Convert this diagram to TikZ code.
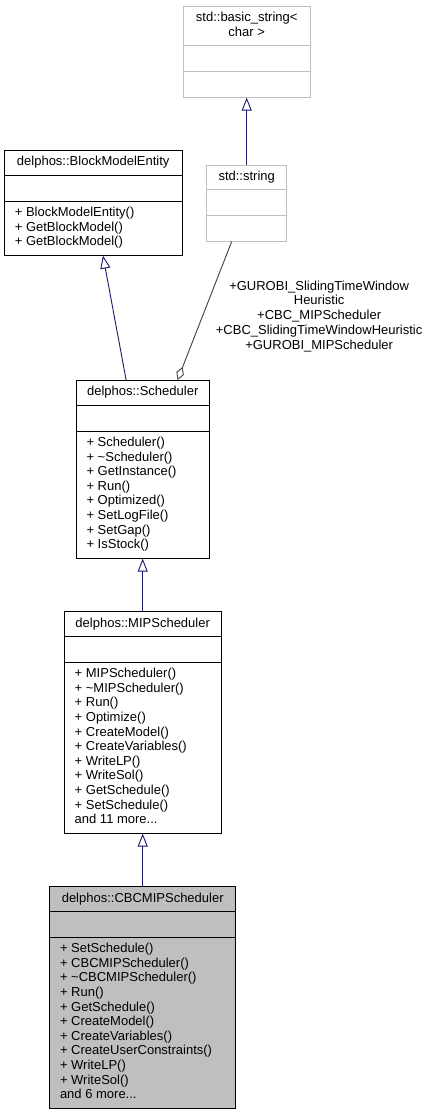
\documentclass[tikz,border=0pt]{standalone}
\usepackage{fontspec}
\setmainfont{Liberation Sans}
\usetikzlibrary{arrows.meta,positioning,shapes.multipart}

\definecolor{edgeblue}{HTML}{191970}
\definecolor{usegray}{HTML}{404040}
\definecolor{boxgray}{HTML}{BFBFBF}

\newcommand{\classtitle}[1]{\begin{tabular}{@{}c@{}}#1\end{tabular}}
\newcommand{\members}[1]{\begin{tabular}{@{}l@{}}#1\end{tabular}}
\newcommand{\nomembers}{\rule{0pt}{15.6pt}}

\tikzset{
    umlclass/.style={rectangle split, rectangle split parts=3, draw=black, line width=1pt,
        inner xsep=10.5pt, inner ysep=4.6pt, rectangle split part align={center,left,left},
        font=\fontsize{13}{14.6}\selectfont},
    extclass/.style={umlclass, draw=boxgray, line width=0.9pt},
    inherit/.style={draw=edgeblue, line width=0.9pt, -{Triangle[open,length=13pt,width=10pt]}},
    aggregate/.style={draw=usegray, line width=0.9pt, -{Diamond[open,length=14pt,width=8pt]}},
    rolelabel/.style={inner sep=0pt, align=center, font=\fontsize{13}{14.8}\selectfont}
}

\begin{document}
\begin{tikzpicture}[x=1pt, y=-1pt, node distance=52.6pt]
            \path[fill=white] (0,0) rectangle (432,1115);
            \useasboundingbox (0,0) rectangle (432,1115);

            \node[extclass, minimum width=126.7pt, anchor=north] (bstr) at (246.7,6)
                {\classtitle{std::basic\_string<\\char >}
                 \nodepart{two}\nomembers
                 \nodepart{three}\nomembers};
            \node[extclass, minimum width=80pt] (str) [below=67pt of bstr]
                {\classtitle{std::string}
                 \nodepart{two}\nomembers
                 \nodepart{three}\nomembers};
            \node[umlclass, minimum width=177.7pt, anchor=north] (bme) at (93.2,150)
                {\classtitle{delphos::BlockModelEntity}
                 \nodepart{two}\nomembers
                 \nodepart{three}\members{+ BlockModelEntity()\\+ GetBlockModel()\\+ GetBlockModel()}};
            \node[umlclass, minimum width=133.3pt, anchor=north] (sched) at (142.7,380)
                {\classtitle{delphos::Scheduler}
                 \nodepart{two}\nomembers
                 \nodepart{three}\members{+ Scheduler()\\+ \textasciitilde Scheduler()\\+ GetInstance()\\+ Run()\\
                    + Optimized()\\+ SetLogFile()\\+ SetGap()\\+ IsStock()}};
            \node[umlclass, minimum width=157pt] (mip) [below=of sched]
                {\classtitle{delphos::MIPScheduler}
                 \nodepart{two}\nomembers
                 \nodepart{three}\members{+ MIPScheduler()\\+ \textasciitilde MIPScheduler()\\+ Run()\\+ Optimize()\\
                    + CreateModel()\\+ CreateVariables()\\+ WriteLP()\\+ WriteSol()\\+ GetSchedule()\\
                    + SetSchedule()\\and 11 more...}};
            \node[umlclass, fill=boxgray, minimum width=186.4pt] (cbc) [below=of mip]
                {\classtitle{delphos::CBCMIPScheduler}
                 \nodepart{two}\nomembers
                 \nodepart{three}\members{+ SetSchedule()\\+ CBCMIPScheduler()\\+ \textasciitilde CBCMIPScheduler()\\+ Run()\\
                    + GetSchedule()\\+ CreateModel()\\+ CreateVariables()\\+ CreateUserConstraints()\\
                    + WriteLP()\\+ WriteSol()\\and 6 more...}};

            \path[inherit]
                (str) edge (bstr)
                (sched) edge (bme)
                (mip) edge (sched)
                (cbc) edge (mip);
            \path[aggregate]
                (str) edge node[rolelabel, pos=0.54, right=13pt]
                    {+GUROBI\_SlidingTimeWindow\\Heuristic\\+CBC\_MIPScheduler\\
                     +CBC\_SlidingTimeWindowHeuristic\\+GUROBI\_MIPScheduler} (sched);
\end{tikzpicture}
\end{document}
